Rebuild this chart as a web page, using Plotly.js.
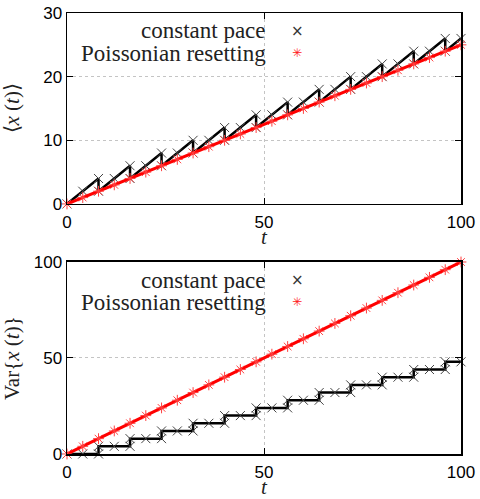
<!DOCTYPE html>
<html>
<head>
<meta charset="utf-8">
<script src="https://cdn.plot.ly/plotly-3.0.1.min.js"></script>
<style>
  html, body { margin: 0; padding: 0; background: #fff; }
  #plot { width: 480px; height: 499px; }
</style>
</head>
<body>
<div id="plot"></div>
<script>
/* constant pace: sampled every 4, both sides of each reset jump */
var tPace = [0,4,8,8,12,16,16,20,24,24,28,32,32,36,40,40,44,48,48,52,56,56,60,64,64,68,72,72,76,80,80,84,88,88,92,96,96,100];
var meanPace = [0,2,4,2,4,6,4,6,8,6,8,10,8,10,12,10,12,14,12,14,16,14,16,18,16,18,20,18,20,22,20,22,24,22,24,26,24,26];
var varPace = [0,0,0,4,4,4,8,8,8,12,12,12,16,16,16,20,20,20,24,24,24,28,28,28,32,32,32,36,36,36,40,40,40,44,44,44,48,48];

/* Poissonian resetting */
var tPois = [0,4,8,12,16,20,24,28,32,36,40,44,48,52,56,60,64,68,72,76,80,84,88,92,96,100];
var meanPois = [0,1,2,3,4,5,6,7,8,9,10,11,12,13,14,15,16,17,18,19,20,21,22,23,24,25];
var varPois = [0,4,8,12,16,20,24,28,32,36,40,44,48,52,56,60,64,68,72,76,80,84,88,92,96,100];

var xTicks = [0,50,100];
var meanTicks = [0,10,20,30];
var varTicks = [0,50,100];

var tickFont = {family: 'Liberation Sans, Arial, sans-serif', size: 17, color: '#000'};
var serif = 'Liberation Serif, Times New Roman, serif';

function paceTrace(y, xa, ya) {
  return {
    x: tPace, y: y, xaxis: xa, yaxis: ya,
    type: 'scatter', mode: 'lines+markers', cliponaxis: false,
    line: {color: '#000', width: 2.5},
    marker: {symbol: 'x-thin-open', size: 9, color: '#444', line: {color: '#444', width: 1}},
    showlegend: false
  };
}
function poisTrace(y, xa, ya) {
  return {
    x: tPois, y: y, xaxis: xa, yaxis: ya,
    type: 'scatter', mode: 'lines+markers', cliponaxis: false,
    line: {color: '#ff0000', width: 3},
    marker: {symbol: 'asterisk-open', size: 9, color: '#ff4040', line: {color: '#ff4040', width: 1}},
    showlegend: false
  };
}

var data = [
  paceTrace(meanPace, 'x', 'y'),
  poisTrace(meanPois, 'x', 'y'),
  paceTrace(varPace, 'x2', 'y2'),
  poisTrace(varPois, 'x2', 'y2')
];

function axis(extra) {
  var a = {
    ticks: 'inside', ticklen: 6, tickcolor: '#000', tickwidth: 1,
    mirror: 'allticks', showline: true, linecolor: '#000', linewidth: 1.5,
    showgrid: true, gridcolor: '#c4c4c4', griddash: 'dot', gridwidth: 1,
    zeroline: false, tickfont: tickFont, fixedrange: true
  };
  for (var k in extra) a[k] = extra[k];
  return a;
}

function legendNotes(xr, yr) {
  var f = {family: serif, size: 23, color: '#222'};
  return [
    {xref: xr, yref: yr, x: 0.51, y: 0.906, xanchor: 'right', yanchor: 'middle',
     text: 'constant pace', showarrow: false, font: f},
    {xref: xr, yref: yr, x: 0.51, y: 0.79, xanchor: 'right', yanchor: 'middle',
     text: 'Poissonian resetting', showarrow: false, font: f},
    {xref: xr, yref: yr, x: 0.584, y: 0.906, xanchor: 'center', yanchor: 'middle',
     text: '×', showarrow: false, font: {family: 'DejaVu Sans', size: 15, color: '#333'}},
    {xref: xr, yref: yr, x: 0.584, y: 0.79, xanchor: 'center', yanchor: 'middle',
     text: '✳', showarrow: false, font: {family: 'DejaVu Sans', size: 12, color: '#ff2020'}}
  ];
}

function titleNotes(xr, yr, ytext) {
  return [
    {xref: xr, yref: yr, x: 0, y: 0.5, xshift: -55, xanchor: 'center', yanchor: 'middle',
     textangle: -90, text: ytext, showarrow: false, font: {family: serif, size: 21, color: '#222'}},
    {xref: xr, yref: yr, x: 0.5, y: 0, yshift: -33, xanchor: 'center', yanchor: 'middle',
     text: '<i>t</i>', showarrow: false, font: {family: serif, size: 21, color: '#222'}}
  ];
}

var layout = {
  width: 480, height: 499,
  margin: {l: 67, r: 19, t: 13, b: 45},
  paper_bgcolor: '#fff', plot_bgcolor: '#fff',
  showlegend: false,
  xaxis: axis({anchor: 'y', range: [0, 100], tickvals: xTicks, ticklabelstandoff: 2}),
  yaxis: axis({anchor: 'x', domain: [0.567, 1], range: [0, 30], tickvals: meanTicks}),
  xaxis2: axis({anchor: 'y2', range: [0, 100], tickvals: xTicks, ticklabelstandoff: 2}),
  yaxis2: axis({anchor: 'x2', domain: [0, 0.4354], range: [0, 100], tickvals: varTicks}),
  annotations: []
    .concat(legendNotes('x domain', 'y domain'))
    .concat(legendNotes('x2 domain', 'y2 domain'))
    .concat(titleNotes('x domain', 'y domain', '⟨<i>x</i> (<i>t</i>)⟩'))
    .concat(titleNotes('x2 domain', 'y2 domain', 'Var{<i>x</i> (<i>t</i>)}'))
};

Plotly.newPlot('plot', data, layout, {displayModeBar: false, staticPlot: true});
</script>
</body>
</html>
